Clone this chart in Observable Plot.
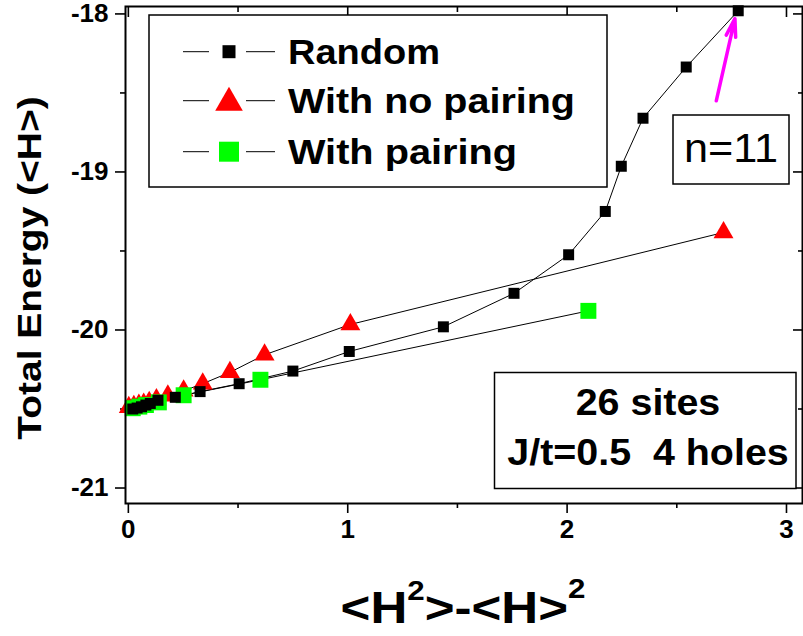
<!DOCTYPE html>
<html><head><meta charset="utf-8">
<script src="https://cdn.jsdelivr.net/npm/d3@7"></script>
<script src="https://cdn.jsdelivr.net/npm/@observablehq/plot@0.6"></script>
<style>body{margin:0;background:#fff} svg{display:block}</style>
</head><body><div id="chart"></div>
<script>
// ---- data ----
const randomX = [0.02, 0.04, 0.06, 0.08, 0.10, 0.135, 0.214, 0.327, 0.505, 0.75, 1.007, 1.436, 1.758, 2.007, 2.174, 2.247, 2.346, 2.543, 2.78];
const randomY = [-20.50, -20.494, -20.486, -20.475, -20.465, -20.445, -20.426, -20.39, -20.34, -20.26, -20.136, -19.98, -19.768, -19.524, -19.25, -18.964, -18.66, -18.336, -17.98];
const noPairX = [0.002, 0.025, 0.048, 0.07, 0.095, 0.128, 0.18, 0.252, 0.339, 0.463, 0.621, 1.012, 2.713];
const noPairY = [-20.489, -20.483, -20.474, -20.468, -20.457, -20.44, -20.416, -20.385, -20.34, -20.268, -20.157, -19.965, -19.383];
const pairX = [0.02, 0.05, 0.08, 0.139, 0.252, 0.602, 2.097];
const pairY = [-20.495, -20.485, -20.475, -20.458, -20.413, -20.315, -19.879];
const arrowFromX = [2.68], arrowFromY = [-18.55], arrowToX = [2.765], arrowToY = [-18.03];
const xMajor = [0, 1, 2, 3];
const xMinor = [0.5, 1.5, 2.5];
const yMajor = [-21, -20, -19, -18];
const yMinor = [-20.5, -19.5, -18.5];
const seriesNames = ["Random", "With no pairing", "With pairing"];
const boxLines = ["26 sites", "J/t=0.5  4 holes"];
const noteLabel = "n=11";
const yTitle = "Total Energy (<H>)";

const toRows = (xs, ys) => xs.map((x, i) => ({x, y: ys[i]}));
const randomRows = toRows(randomX, randomY);
const noPairRows = toRows(noPairX, noPairY);
const pairRows = toRows(pairX, pairY);
const arrowRows = arrowFromX.map((x, i) => ({x1: x, y1: arrowFromY[i], x2: arrowToX[i], y2: arrowToY[i]}));

const FONT = "'Liberation Sans', Arial, Helvetica, sans-serif";
const fmt = d => String(d);
const axisStyle = {fontSize: 26, fontWeight: "bold", fontFamily: FONT, strokeWidth: 1.6};

const plot = Plot.plot({
  width: 803, height: 636,
  marginLeft: 125, marginRight: 1, marginTop: 6, marginBottom: 133,
  style: {fontFamily: FONT, color: "#000", background: "#fff", overflow: "visible"},
  x: {domain: [-0.013, 3.073]},
  y: {domain: [-21.098, -17.953]},
  marks: [
    // axes
    Plot.axisY({anchor: "left", ticks: yMajor, tickSize: 10, tickPadding: 7, tickFormat: fmt, label: null, ...axisStyle}),
    Plot.axisY({anchor: "left", ticks: yMinor, tickSize: 5, tickFormat: () => "", label: null, strokeWidth: 1.6}),
    Plot.axisX({anchor: "bottom", ticks: xMajor, tickSize: 10, tickPadding: 6, tickFormat: fmt, label: null, ...axisStyle}),
    Plot.axisX({anchor: "bottom", ticks: xMinor, tickSize: 5, tickFormat: () => "", label: null, strokeWidth: 1.6}),
    Plot.axisX({anchor: "top", ticks: xMajor, tickSize: 10, dy: 10, tickFormat: () => "", label: null, strokeWidth: 1.6}),
    Plot.axisX({anchor: "top", ticks: xMinor, tickSize: 5, dy: 5, tickFormat: () => "", label: null, strokeWidth: 1.6}),
    Plot.axisY({anchor: "right", ticks: yMajor, tickSize: 10, dx: -10, tickFormat: () => "", label: null, strokeWidth: 1.6}),
    Plot.axisY({anchor: "right", ticks: yMinor, tickSize: 5, dx: -5, tickFormat: () => "", label: null, strokeWidth: 1.6}),
    // series lines
    Plot.line(noPairRows, {x: "x", y: "y", stroke: "#000", strokeWidth: 1}),
    Plot.line(pairRows, {x: "x", y: "y", stroke: "#000", strokeWidth: 1}),
    Plot.line(randomRows, {x: "x", y: "y", stroke: "#000", strokeWidth: 1}),
    // markers
    Plot.dot(noPairRows, {x: "x", y: "y", symbol: "triangle", r: 7.4, fill: "#ff0000", stroke: "none"}),
    Plot.dot(pairRows, {x: "x", y: "y", symbol: "square", r: 9, fill: "#00ff00", stroke: "none"}),
    Plot.dot(randomRows, {x: "x", y: "y", symbol: "square", r: 6.2, fill: "#000", stroke: "none"}),
    // arrow
    Plot.arrow(arrowRows, {x1: "x1", y1: "y1", x2: "x2", y2: "y2", stroke: "#ff00ff", strokeWidth: 3.5, headLength: 8, headAngle: 30}),
    Plot.frame({stroke: "#000", strokeWidth: 2})
  ]
});

document.getElementById("chart").appendChild(plot);
const svg = d3.select(plot);

// stretch helper: widen glyphs to the reference's width
function stretch(sel, factor) {
  const node = sel.node();
  const w = node.getComputedTextLength();
  sel.attr("textLength", w * factor).attr("lengthAdjust", "spacingAndGlyphs");
  return sel;
}

// y title
const yt = svg.append("text")
  .attr("transform", "translate(41,268) rotate(-90)")
  .attr("text-anchor", "middle")
  .style("font", `bold 33px ${FONT}`)
  .text(yTitle);
stretch(yt, 1.18);

// x title with superscripts
const xt = svg.append("text")
  .attr("transform", "translate(463,623) scale(1.16,1)")
  .attr("text-anchor", "middle")
  .style("font", `bold 44px ${FONT}`);
xt.append("tspan").text("<H");
xt.append("tspan").attr("dy", -23).style("font-size", "27px").text("2");
xt.append("tspan").attr("dy", 23).text(">-<H>");
xt.append("tspan").attr("dy", -25).style("font-size", "27px").text("2");

// legend
const lg = svg.append("g");
lg.append("rect").attr("x", 149).attr("y", 15).attr("width", 458).attr("height", 172)
  .attr("fill", "#fff").attr("stroke", "#000").attr("stroke-width", 1.5);
const rowsY = [51.7, 100.7, 151.7];
const legendSym = [
  {type: d3.symbolSquare, size: 13 * 13, fill: "#000", dy: 0},
  {type: d3.symbolTriangle, size: 330, fill: "#ff0000", dy: 2},
  {type: d3.symbolSquare, size: 20 * 20, fill: "#00ff00", dy: 0}
];
const legendWidths = [152, 287, 229];
seriesNames.forEach((name, i) => {
  const cy = rowsY[i];
  lg.append("line").attr("x1", 183).attr("x2", 209).attr("y1", cy).attr("y2", cy).attr("stroke", "#000").attr("stroke-width", 1);
  lg.append("line").attr("x1", 246).attr("x2", 275).attr("y1", cy).attr("y2", cy).attr("stroke", "#000").attr("stroke-width", 1);
  lg.append("path").attr("transform", `translate(229,${cy + legendSym[i].dy})`)
    .attr("d", d3.symbol(legendSym[i].type, legendSym[i].size)()).attr("fill", legendSym[i].fill);
  lg.append("text").attr("x", 288).attr("y", cy + 12.5)
    .attr("text-anchor", "start")
    .attr("textLength", legendWidths[i]).attr("lengthAdjust", "spacingAndGlyphs")
    .style("font", `bold 35px ${FONT}`).text(name);
});

// n=11 box
svg.append("rect").attr("x", 673).attr("y", 115).attr("width", 116).attr("height", 69)
  .attr("fill", "#fff").attr("stroke", "#000").attr("stroke-width", 1.5);
const nt = svg.append("text").attr("x", 731).attr("y", 162).attr("text-anchor", "middle")
  .style("font", `40px ${FONT}`).text(noteLabel);
stretch(nt, 1.08);

// info box
svg.append("rect").attr("x", 494.5).attr("y", 372.5).attr("width", 301.5).attr("height", 116)
  .attr("fill", "#fff").attr("stroke", "#000").attr("stroke-width", 1.5);
boxLines.forEach((t, i) => {
  const bt = svg.append("text").attr("x", 648).attr("y", [415, 465][i]).attr("text-anchor", "middle")
    .attr("xml:space", "preserve").style("white-space", "pre")
    .style("font", `bold 37px ${FONT}`).text(t);
  stretch(bt, 1.065);
});
</script>
</body></html>
